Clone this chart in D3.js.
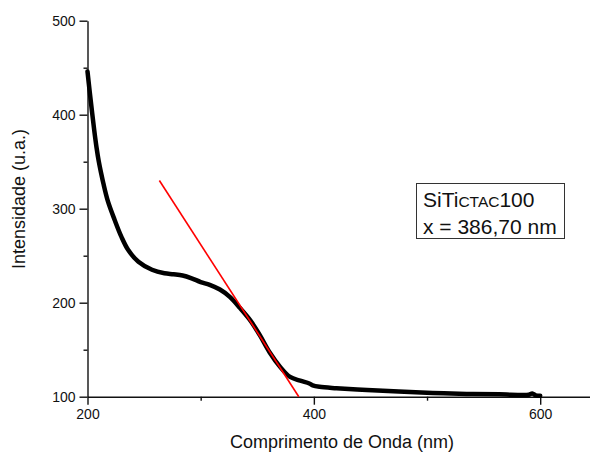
<!DOCTYPE html>
<html>
<head>
<meta charset="utf-8">
<script src="https://cdn.jsdelivr.net/npm/d3@7"></script>
<style>
  body { margin: 0; background: #fff; }
  svg { display: block; font-family: "Liberation Sans", Arial, sans-serif; }
</style>
</head>
<body>
<div id="chart"></div>
<script>
// spectrum
var wavelength = [200, 202, 204, 206, 208, 210, 212, 214, 218, 224, 230, 236, 245, 257, 268, 276, 284, 292, 300, 308, 317, 326, 335, 344, 352, 361, 370, 379, 388, 396, 399, 405, 420, 447, 475, 505, 535, 564, 590, 593, 596, 600];
var intensity  = [446, 424, 403, 383, 365, 350, 338, 327, 308, 288, 270, 256, 243.5, 235, 231.3, 230.3, 229, 226, 222, 219, 214, 206, 194, 181, 166, 147, 132, 121, 117, 114, 112, 110.5, 109, 107, 105.5, 104, 103, 102.5, 102, 103.5, 101.5, 101];

// tangent line (band gap fit)
var fitX = [263.5, 386.7];
var fitY = [330, 100];

var xMajor = [200, 400, 600];
var xMinor = [300, 500];
var yMajor = [100, 200, 300, 400, 500];
var yMinor = [150, 250, 350, 450];

var legendLines = ["SiTi", "CTAC", "100", "x = 386,70 nm"];

var width = 590, height = 456;

var svg = d3.select("#chart").append("svg")
    .attr("width", width)
    .attr("height", height);

var x = d3.scaleLinear().domain([200, 644]).range([87.5, 590]);
var y = d3.scaleLinear().domain([100, 500]).range([396.7, 20.7]);

// x axis
var gx = svg.append("g")
    .attr("transform", "translate(0," + y(100) + ")");
gx.call(d3.axisBottom(x).tickValues(xMajor).tickSize(8).tickSizeOuter(0).tickPadding(4));
gx.append("g").call(d3.axisBottom(x).tickValues(xMinor).tickSize(4).tickFormat(""))
    .select(".domain").remove();

// y axis
var gy = svg.append("g")
    .attr("transform", "translate(" + x(200) + ",0)");
gy.call(d3.axisLeft(y).tickValues(yMajor).tickSize(8).tickSizeOuter(0).tickPadding(4));
gy.append("g").call(d3.axisLeft(y).tickValues(yMinor).tickSize(4).tickFormat(""))
    .select(".domain").remove();

svg.selectAll(".domain, .tick line")
    .attr("stroke", "#111")
    .attr("stroke-width", 1.4);
svg.selectAll(".tick text")
    .attr("font-size", "14px")
    .attr("fill", "#111")
    .style("font-family", "Liberation Sans, Arial, sans-serif");

// axis titles
svg.append("text")
    .attr("x", 342)
    .attr("y", 448)
    .attr("text-anchor", "middle")
    .attr("font-size", "18px")
    .attr("fill", "#111")
    .text("Comprimento de Onda (nm)");

svg.append("text")
    .attr("transform", "translate(25,199) rotate(-90)")
    .attr("text-anchor", "middle")
    .attr("font-size", "18px")
    .attr("fill", "#111")
    .text("Intensidade (u.a.)");

// spectrum
var pts = wavelength.map(function(w, i){ return [w, intensity[i]]; });
var line = d3.line()
    .x(function(d){ return x(d[0]); })
    .y(function(d){ return y(d[1]); })
    .curve(d3.curveCatmullRom.alpha(0.5));

svg.append("path")
    .datum(pts)
    .attr("d", line)
    .attr("fill", "none")
    .attr("stroke", "#000")
    .attr("stroke-width", 4.5)
    .attr("stroke-linejoin", "round")
    .attr("stroke-linecap", "round");

// red fit line
svg.append("path")
    .datum(fitX.map(function(w, i){ return [w, fitY[i]]; }))
    .attr("d", d3.line().x(function(d){ return x(d[0]); }).y(function(d){ return y(d[1]); }))
    .attr("fill", "none")
    .attr("stroke", "#ff0000")
    .attr("stroke-width", 1.6);

// legend box
svg.append("rect")
    .attr("x", 416.5)
    .attr("y", 183.5)
    .attr("width", 148)
    .attr("height", 55)
    .attr("fill", "#fff")
    .attr("stroke", "#333")
    .attr("stroke-width", 1);

var t1 = svg.append("text")
    .attr("x", 423)
    .attr("y", 207)
    .attr("font-size", "21px")
    .attr("fill", "#111");
t1.append("tspan").text(legendLines[0]);
t1.append("tspan").attr("font-size", "15.5px").text(legendLines[1]);
t1.append("tspan").text(legendLines[2]);

svg.append("text")
    .attr("x", 423)
    .attr("y", 234)
    .attr("font-size", "21px")
    .attr("fill", "#111")
    .text(legendLines[3]);
</script>
</body>
</html>
